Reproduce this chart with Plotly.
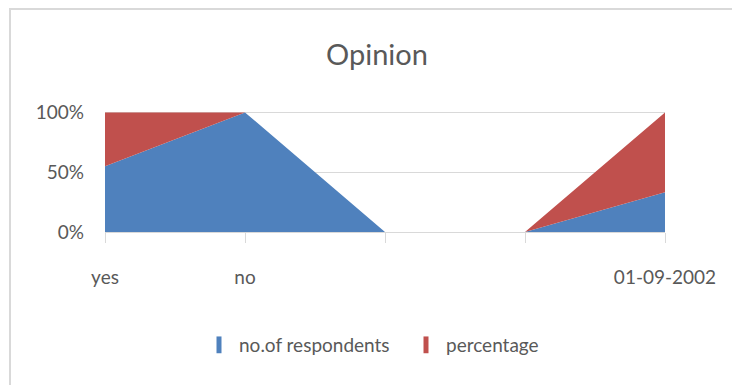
import plotly.graph_objects as go

# Survey categories along the x axis (two unlabeled slots between "no" and the date)
categories = ["yes", "no", "", "", "01-09-2002"]
respondents = [11, 9, 0, 0, 1]
percentage = [9, 0, 0, 0, 2]
y_ticks = [0, 50, 100]
y_tick_labels = ["0%", "50%", "100%"]

series = [
    ("no.of respondents", respondents, "#4F81BD"),
    ("percentage", percentage, "#C0504D"),
]

FONT = "Lato"
TEXT = "#595959"
GRID = "#D9D9D9"

positions = list(range(len(categories)))

fig = go.Figure()
for name, values, color in series:
    # 100% stacked area
    fig.add_trace(go.Scatter(
        x=positions, y=values, name=name,
        stackgroup="one", groupnorm="percent",
        mode="lines", line=dict(width=0, color=color),
        fillcolor=color, showlegend=False, hoverinfo="skip",
    ))
for name, values, color in series:
    # legend swatches
    fig.add_trace(go.Scatter(
        x=[None], y=[None], name=name, mode="markers",
        marker=dict(symbol="line-ns", size=12,
                    line=dict(width=5, color=color), color=color),
        showlegend=True,
    ))

fig.update_layout(
    width=732, height=385,
    margin=dict(l=105, r=67, t=110, b=153),
    paper_bgcolor="white", plot_bgcolor="white",
    font=dict(family=FONT, color=TEXT, size=19),
    title=dict(text="Opinion", x=377 / 732, xanchor="center",
               y=1 - 55 / 385, yanchor="middle",
               font=dict(family=FONT, size=29, color=TEXT)),
    showlegend=True,
    legend=dict(orientation="h", traceorder="normal",
                entrywidth=162, entrywidthmode="pixels",
                xref="container", yref="container",
                x=199 / 732, xanchor="left", y=1 - 345 / 385, yanchor="middle",
                font=dict(family=FONT, size=19, color=TEXT),
                bgcolor="rgba(0,0,0,0)", itemclick=False),
    shapes=[dict(type="rect", xref="paper", yref="paper",
                 x0=(10 - 105) / 560, x1=(745 - 105) / 560,
                 y0=(232 - 400) / 122, y1=(232 - 9) / 122,
                 line=dict(color=GRID, width=2), fillcolor="rgba(0,0,0,0)",
                 layer="below")],
)

fig.update_xaxes(
    range=[0, len(categories) - 1], tickmode="array",
    tickvals=positions, ticktext=categories,
    showgrid=False, zeroline=False,
    showline=True, linecolor=GRID, linewidth=1,
    ticks="outside", ticklen=10, tickcolor=GRID, tickwidth=1,
    ticklabelstandoff=18,
    tickfont=dict(family=FONT, size=19, color=TEXT),
)
fig.update_yaxes(
    range=[0, 102], tickmode="array", tickvals=y_ticks,
    ticktext=y_tick_labels, showgrid=True, gridcolor=GRID, gridwidth=1,
    zeroline=False, showline=False, ticks="",
    ticklabelstandoff=20,
    tickfont=dict(family=FONT, size=19, color=TEXT),
)

fig.write_html("out.html")
